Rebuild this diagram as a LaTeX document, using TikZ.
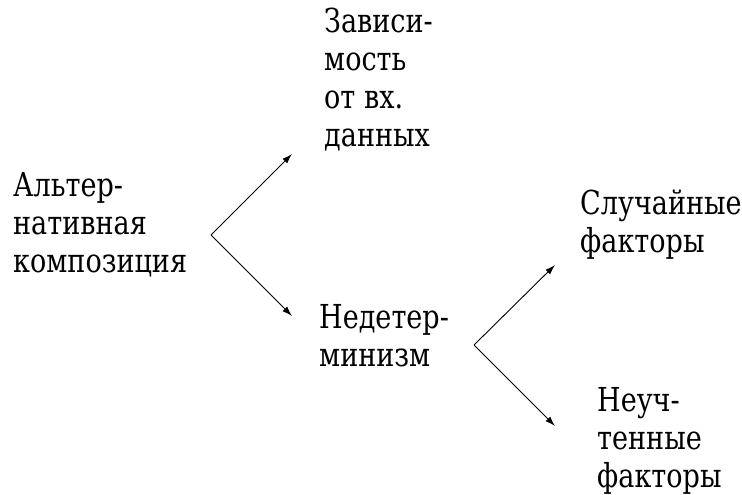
\documentclass[tikz,border=0pt]{standalone}
\usepackage{fontspec}
\newfontfamily\termfont[FakeStretch=0.82]{DejaVu Serif}
\usetikzlibrary{arrows.meta}

\tikzset{
    term/.style={anchor=base west, align=left, inner sep=0pt,
        font=\termfont\fontsize{33}{38}\selectfont},
    branch/.style={-{Latex[length=10pt,width=6.5pt]}, line width=0.9pt}
}

\begin{document}
\begin{tikzpicture}[x=1pt, y=-1pt]
        \useasboundingbox (0,0) rectangle (742,495);

        % --- Texts (placed by their last baseline) ---
        \node[term] (alt) at (13,272) {Альтер-\\нативная\\композиция};
        \node[term] (dep) at (324,146) {Зависи-\\мость\\от вх.\\данных};
        \node[term] (nondet) at (319,366) {Недетер-\\минизм};
        \node[term] (rand) at (580,252) {Случайные\\факторы};
        \node[term] (unacc) at (597,487) {Неуч-\\тенные\\факторы};
        % ---

        % --- First fork ---
        \coordinate (forkA) at (211,235);
        \coordinate (tipAup) at (292,154);
        \coordinate (tipAdown) at (292,316);
        \draw[branch] (forkA) -- (tipAup);
        \draw[branch] (forkA) -- (tipAdown);
        % ---

        % --- Second fork ---
        \coordinate (forkB) at (474,345);
        \coordinate (tipBup) at (555,265);
        \coordinate (tipBdown) at (555,426);
        \draw[branch] (forkB) -- (tipBup);
        \draw[branch] (forkB) -- (tipBdown);
        % ---
\end{tikzpicture}
\end{document}
